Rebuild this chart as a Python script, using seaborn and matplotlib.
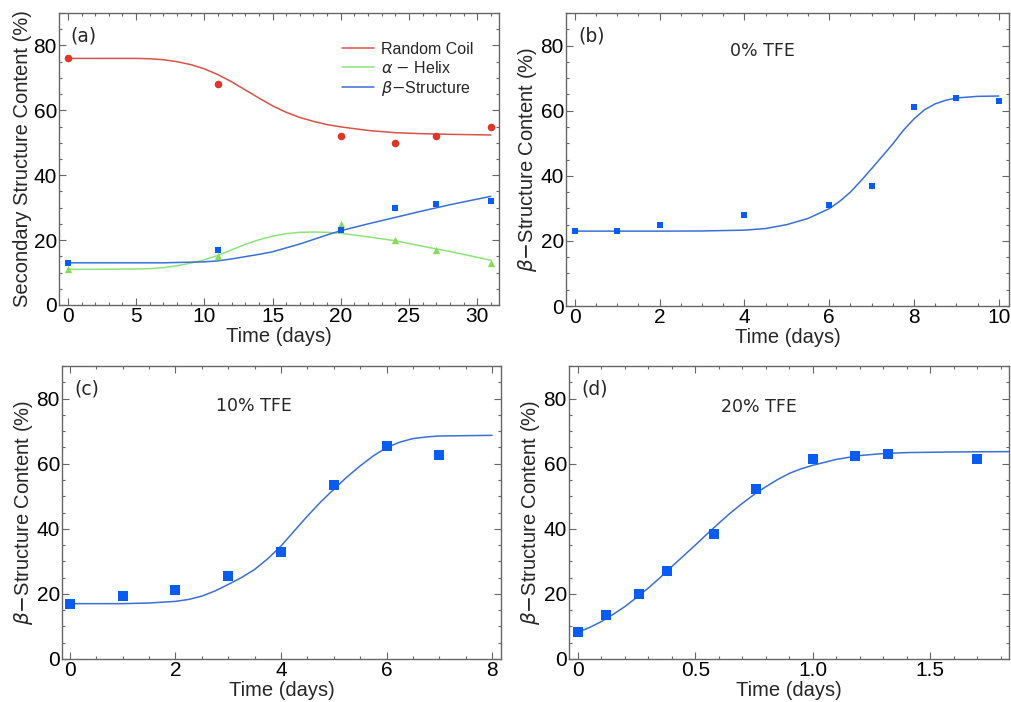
import numpy as np
import pandas as pd
import matplotlib
matplotlib.use("Agg")
import matplotlib.pyplot as plt
from matplotlib.ticker import MultipleLocator, FuncFormatter
import seaborn as sns

# ---------------- data ----------------
# Panel (a)
a_days = [0, 11, 20, 24, 27, 31]
a_coil = [76, 68, 52, 50, 52, 55]
a_helix = [11, 15, 25, 20, 17, 13]
a_beta = [13, 17, 23, 30, 31, 32]
a_fit_x = [0, 2.5, 5, 6, 7, 8, 9, 10, 11, 12, 13, 14, 15, 16, 17, 18, 19, 20, 22, 24, 26, 28, 31]
a_fit_coil = [76, 76, 76, 75.9, 75.6, 75.0, 74.1, 72.8, 71.0, 68.8, 66.3, 63.8, 61.4, 59.4,
              57.8, 56.6, 55.6, 54.9, 53.8, 53.1, 52.8, 52.6, 52.4]
a_fit_helix = [11, 11, 11.1, 11.2, 11.5, 12.1, 12.9, 13.9, 15.3, 17.0, 18.7, 20.1, 21.2, 22.0,
               22.4, 22.5, 22.4, 22.1, 21.0, 19.8, 18.1, 16.5, 13.8]
a_fit_beta = [13, 13, 13, 13, 13, 13.1, 13.2, 13.3, 13.6, 14.2, 14.9, 15.6, 16.4, 17.6,
              18.8, 20.2, 21.6, 22.9, 25.0, 27.0, 29.0, 30.9, 33.5]

# Panel (b) 0% TFE
b_days = [0, 1, 2, 4, 6, 7, 8, 9, 10]
b_beta = [23, 23, 25, 28, 31, 37, 61, 64, 63]
b_fit_x = [0, 1, 2, 3, 4, 4.5, 5, 5.5, 6, 6.25, 6.5, 6.75, 7, 7.25, 7.5, 7.75, 8, 8.25, 8.5, 8.75, 9, 9.5, 10]
b_fit_y = [23, 23, 23, 23.05, 23.3, 23.8, 25.0, 26.9, 29.9, 32.2, 35.0, 38.5, 42.2, 46.0, 49.8, 54.0,
           57.5, 60.3, 62.1, 63.2, 63.9, 64.4, 64.5]

# Panel (c) 10% TFE
c_days = [0, 1, 2, 3, 4, 5, 6, 7]
c_beta = [17.0, 19.3, 21.1, 25.6, 33.0, 53.3, 65.3, 62.6]
c_fit_x = [0, 1, 1.5, 2, 2.25, 2.5, 2.75, 3, 3.25, 3.5, 3.75, 4, 4.25, 4.5, 4.75, 5, 5.25, 5.5,
           5.75, 6, 6.25, 6.5, 6.75, 7, 8]
c_fit_y = [17, 17, 17.2, 17.7, 18.3, 19.3, 20.9, 22.9, 25.0, 27.5, 30.8, 34.7, 39.3, 43.9, 48.2,
           52.1, 55.9, 59.3, 62.4, 64.9, 66.6, 67.7, 68.2, 68.5, 68.7]

# Panel (d) 20% TFE
d_days = [0, 0.12, 0.26, 0.38, 0.58, 0.76, 1.0, 1.18, 1.32, 1.70]
d_beta = [8.2, 13.4, 20.1, 27.1, 38.4, 52.3, 61.4, 62.3, 63.1, 61.3]
d_fit_x = [0, 0.05, 0.1, 0.15, 0.2, 0.25, 0.3, 0.35, 0.4, 0.45, 0.5, 0.55, 0.6, 0.65, 0.7, 0.75,
           0.8, 0.85, 0.9, 0.95, 1.0, 1.1, 1.2, 1.3, 1.4, 1.6, 1.84]
d_fit_y = [8.2, 9.7, 11.5, 13.7, 16.1, 18.9, 21.8, 25.0, 28.4, 31.7, 35.0, 38.4, 41.7, 44.9, 47.8,
           50.5, 52.9, 55.1, 57.0, 58.4, 59.5, 61.3, 62.5, 63.1, 63.4, 63.6, 63.7]

# ---------------- style ----------------
sns.set_theme(style="white")
plt.rcParams['font.family'] = ['Liberation Sans', 'DejaVu Sans']
plt.rcParams['mathtext.fontset'] = 'dejavusans'

RED_PT, RED_LN = "#e0352b", "#d8524a"
GRN_PT, GRN_LN = "#86dc5a", "#8ee27a"
BLU_PT, BLU_LN = "#0a5cf0", "#3a6fd6"
FRAME = "#666666"
TICK_FS = 15
LABEL_FS = 14.5

fig = plt.figure(figsize=(10.11, 7.02), dpi=100)
W, H = 1011, 702

def make_ax(l, r, t, b):
    return fig.add_axes([l / W, (H - b) / H, (r - l) / W, (b - t) / H])

ax_a = make_ax(59, 499, 13, 305)
ax_b = make_ax(566, 1009, 13, 306)
ax_c = make_ax(62, 501, 366, 659)
ax_d = make_ax(569, 1009, 366, 659)

def style_ax(ax, xlim, xmaj, xmin, xfmt=None):
    ax.set_xlim(*xlim)
    ax.set_ylim(0, 90)
    ax.xaxis.set_major_locator(MultipleLocator(xmaj))
    ax.xaxis.set_minor_locator(MultipleLocator(xmin))
    ax.yaxis.set_major_locator(MultipleLocator(20))
    ax.yaxis.set_minor_locator(MultipleLocator(5))
    ax.tick_params(which="both", direction="in", top=True, right=True,
                   bottom=True, left=True, color=FRAME, width=0.8)
    ax.tick_params(which="major", length=5, labelsize=TICK_FS, pad=1.5, labelcolor="black")
    ax.tick_params(which="minor", length=2.5)
    for s in ax.spines.values():
        s.set_color(FRAME)
        s.set_linewidth(1.0)
    if xfmt is not None:
        ax.xaxis.set_major_formatter(xfmt)
    ax.set_xlabel("Time (days)", fontsize=LABEL_FS, labelpad=0.5)

# ---------------- panel (a) ----------------
n = len(a_fit_x)
df_fit_a = pd.DataFrame({"x": a_fit_x * 3,
                         "y": a_fit_coil + a_fit_helix + a_fit_beta,
                         "s": ["Random Coil"] * n + [r"$\alpha$ $-$ Helix"] * n
                              + [r"$\beta$$-$Structure"] * n})
sns.lineplot(data=df_fit_a, x="x", y="y", hue="s", ax=ax_a,
             palette=[RED_LN, GRN_LN, BLU_LN], linewidth=1.1, sort=False, legend=True)
sns.scatterplot(x=a_days, y=a_coil, ax=ax_a, color=RED_PT, marker="o", s=30, linewidth=0, zorder=3)
sns.scatterplot(x=a_days, y=a_helix, ax=ax_a, color=GRN_PT, marker="^", s=28, linewidth=0, zorder=3)
sns.scatterplot(x=a_days, y=a_beta, ax=ax_a, color=BLU_PT, marker="s", s=22, linewidth=0, zorder=3)
style_ax(ax_a, (-0.65, 31.6), 5, 1)
ax_a.set_ylabel("Secondary Structure Content (%)", fontsize=LABEL_FS, labelpad=1)
ax_a.legend(loc="upper right", bbox_to_anchor=(0.963, 0.935), frameon=False,
            fontsize=11.5, handlelength=2.0, handletextpad=0.4, labelspacing=0.2,
            borderaxespad=0.2)
ax_a.text(0.025, 0.955, "(a)", transform=ax_a.transAxes, fontsize=13.5,
          family="DejaVu Sans", va="top", ha="left")

# ---------------- panel (b) ----------------
sns.lineplot(x=b_fit_x, y=b_fit_y, ax=ax_b, color=BLU_LN, linewidth=1.1, sort=False)
sns.scatterplot(x=b_days, y=b_beta, ax=ax_b, color=BLU_PT, marker="s", s=22, linewidth=0, zorder=3)
style_ax(ax_b, (-0.21, 10.24), 2, 0.5)
ax_b.set_ylabel(r"$\beta$$-$Structure Content (%)", fontsize=LABEL_FS, labelpad=1)
ax_b.text(0.028, 0.955, "(b)", transform=ax_b.transAxes, fontsize=13.5,
          family="DejaVu Sans", va="top", ha="left")
ax_b.text(0.37, 0.87, "0% TFE", transform=ax_b.transAxes, fontsize=12.5,
          family="DejaVu Sans", va="center", ha="left")

# ---------------- panel (c) ----------------
sns.lineplot(x=c_fit_x, y=c_fit_y, ax=ax_c, color=BLU_LN, linewidth=1.1, sort=False)
sns.scatterplot(x=c_days, y=c_beta, ax=ax_c, color=BLU_PT, marker="s", s=62, linewidth=0, zorder=3)
style_ax(ax_c, (-0.15, 8.17), 2, 0.5)
ax_c.set_ylabel(r"$\beta$$-$Structure Content (%)", fontsize=LABEL_FS, labelpad=1)
ax_c.text(0.028, 0.955, "(c)", transform=ax_c.transAxes, fontsize=13.5,
          family="DejaVu Sans", va="top", ha="left")
ax_c.text(0.35, 0.865, "10% TFE", transform=ax_c.transAxes, fontsize=12.5,
          family="DejaVu Sans", va="center", ha="left")

# ---------------- panel (d) ----------------
def d_fmt(v, pos):
    return "0" if abs(v) < 1e-9 else f"{v:.1f}"

sns.lineplot(x=d_fit_x, y=d_fit_y, ax=ax_d, color=BLU_LN, linewidth=1.1, sort=False)
sns.scatterplot(x=d_days, y=d_beta, ax=ax_d, color=BLU_PT, marker="s", s=62, linewidth=0, zorder=3)
style_ax(ax_d, (-0.038, 1.836), 0.5, 0.1, FuncFormatter(d_fmt))
ax_d.set_ylabel(r"$\beta$$-$Structure Content (%)", fontsize=LABEL_FS, labelpad=1)
ax_d.text(0.028, 0.955, "(d)", transform=ax_d.transAxes, fontsize=13.5,
          family="DejaVu Sans", va="top", ha="left")
ax_d.text(0.345, 0.86, "20% TFE", transform=ax_d.transAxes, fontsize=12.5,
          family="DejaVu Sans", va="center", ha="left")

fig.savefig("out.png", dpi=100)
